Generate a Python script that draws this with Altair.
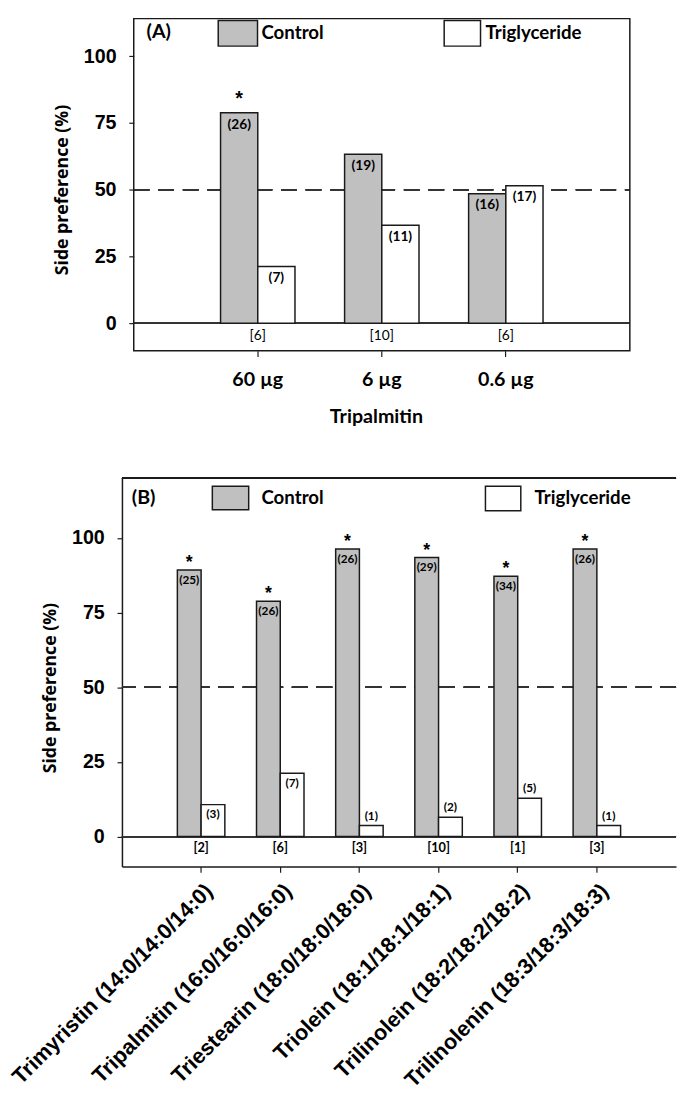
import altair as alt
import pandas as pd

# ---------------- data ----------------
groups = ["Control", "Triglyceride"]

doses = ["60 µg", "6 µg", "0.6 µg"]
a_control = [78.8, 63.3, 48.5]
a_trig = [21.2, 36.7, 51.5]
a_control_n = [26, 19, 16]
a_trig_n = [7, 11, 17]
a_none = [6, 10, 6]
a_sig = [True, False, False]
a_trig_above = [False, False, False]

lipids = [
    "Trimyristin (14:0/14:0/14:0)",
    "Tripalmitin (16:0/16:0/16:0)",
    "Triestearin (18:0/18:0/18:0)",
    "Triolein (18:1/18:1/18:1)",
    "Trilinolein (18:2/18:2/18:2)",
    "Trilinolenin (18:3/18:3/18:3)",
]
b_control = [89.3, 78.8, 96.3, 93.5, 87.2, 96.3]
b_trig = [10.7, 21.2, 3.7, 6.5, 12.8, 3.7]
b_control_n = [25, 26, 26, 29, 34, 26]
b_trig_n = [3, 7, 1, 2, 5, 1]
b_none = [2, 6, 3, 10, 1, 3]
b_sig = [True, True, True, True, True, True]
b_trig_above = [False, False, True, True, True, True]

FONT_C = "Lato"
FONT_O = "Open Sans"
FONT_A = "Liberation Sans"
GRAY = "#c0c0c0"
INK = "#1a1a1a"
FILL = alt.Scale(domain=groups, range=[GRAY, "#ffffff"])


def long_df(cats, ctrl, trig, ctrl_n, trig_n, sig, above):
    rows = []
    for i, c in enumerate(cats):
        rows.append(dict(cat=c, group="Control", value=ctrl[i],
                         n=f"({ctrl_n[i]})", sig=sig[i], above=False))
        rows.append(dict(cat=c, group="Triglyceride", value=trig[i],
                         n=f"({trig_n[i]})", sig=False, above=above[i]))
    return pd.DataFrame(rows)


def none_df(cats, vals):
    return pd.DataFrame({"cat": cats, "lab": [f"[{v}]" for v in vals]})


def legend_layers(boxes):
    """boxes: for each group, (x1, x2, y1, y2, label_x) in panel pixels."""
    out = []
    for g, (x1, x2, y1, y2, lx) in zip(groups, boxes):
        d = pd.DataFrame({"group": [g]})
        out.append(alt.Chart(d).mark_rect(stroke=INK, strokeWidth=1.5).encode(
            x=alt.value(x1), x2=alt.value(x2), y=alt.value(y1), y2=alt.value(y2),
            color=alt.Color("group:N", scale=FILL, legend=None)))
        out.append(alt.Chart(d).mark_text(
            align="left", baseline="middle", font=FONT_C, fontSize=19, fontWeight="bold",
            color="black").encode(x=alt.value(lx), y=alt.value((y1 + y2) / 2), text="group:N"))
    return out


def panel(df, ndf, cats, width, height, ydom, letter, letter_xy, xaxis, xscale,
          legend_boxes, n_size, star_size, star_dy, brk_size, brk_weight,
          frame_left, ghost_x, title_y):
    x_enc = alt.X("cat:N", sort=cats, scale=xscale, axis=xaxis)
    xo = alt.XOffset("group:N", scale=alt.Scale(domain=groups, paddingInner=0,
                                                 paddingOuter=0.6667))
    y_enc = alt.Y("value:Q", scale=alt.Scale(domain=ydom, nice=False, zero=False),
                  axis=alt.Axis(values=[0, 25, 50, 75, 100], title="Side preference (%)",
                                grid=False, domain=(frame_left == 0), domainColor=INK,
                                domainWidth=1.5, offset=-frame_left,
                                tickColor=INK, tickWidth=1.2, tickSize=5,
                                labelPadding=13, labelFont=FONT_A, labelFontSize=20,
                                labelFontWeight="bold", labelColor="black",
                                titleFont=FONT_O, titleFontSize=18, titleFontWeight="bold",
                                titleColor="black", titlePadding=12, titleY=title_y))
    base = alt.Chart(df)

    if frame_left:
        zero = alt.Chart(df).mark_rule(color="#333", strokeWidth=1.3).encode(
            y=alt.datum(0), x=alt.value(frame_left), x2=alt.value(width))
        half = alt.Chart(df).mark_rule(color="#333", strokeWidth=1.5, strokeDash=[16, 9]).encode(
            y=alt.datum(50), x=alt.value(frame_left), x2=alt.value(width))
    else:
        zero = alt.Chart(df).mark_rule(color="#333", strokeWidth=1.3).encode(y=alt.datum(0))
        half = alt.Chart(df).mark_rule(color="#333", strokeWidth=1.5,
                                       strokeDash=[16, 9]).encode(y=alt.datum(50))

    bars = base.mark_bar(stroke=INK, strokeWidth=1.5).encode(
        x=x_enc, xOffset=xo, y=y_enc, y2=alt.datum(0),
        color=alt.Color("group:N", scale=FILL, legend=None),
    )
    lab_in = base.transform_filter("!datum.above").mark_text(
        baseline="top", dy=5, font=FONT_C, fontSize=n_size, fontWeight="bold", color="black"
    ).encode(x=x_enc, xOffset=xo, y=y_enc, text="n:N")
    lab_up = base.transform_filter("datum.above").mark_text(
        baseline="alphabetic", dy=-6, font=FONT_C, fontSize=n_size, fontWeight="bold", color="black"
    ).encode(x=x_enc, xOffset=xo, y=y_enc, text="n:N")
    stars = base.transform_filter("datum.sig").mark_text(
        text="*", baseline="alphabetic", dy=star_dy, font=FONT_A, fontSize=star_size,
        fontWeight="bold", color="black"
    ).encode(x=x_enc, xOffset=xo, y=y_enc)
    brk = alt.Chart(ndf).mark_text(
        baseline="top", dy=6, font=FONT_C, fontSize=brk_size, fontWeight=brk_weight, color="black"
    ).encode(x=x_enc, y=alt.datum(0), text="lab:N")
    tag = alt.Chart(pd.DataFrame({"t": [letter]})).mark_text(
        align="left", baseline="middle", font=FONT_C, fontSize=20,
        fontWeight="bold", color="black"
    ).encode(x=alt.value(letter_xy[0]), y=alt.value(letter_xy[1]), text="t:N")

    layers = [zero, half, bars, lab_in, lab_up, stars, brk, tag] + legend_layers(legend_boxes)
    if ghost_x is not None:
        # invisible spacer that fixes the left extent of the panel
        layers.append(alt.Chart(pd.DataFrame({"t": ["."]})).mark_text(
            color="white", align="left", fontSize=2).encode(
            x=alt.value(ghost_x), y=alt.value(height - 2), text="t:N"))
    if frame_left:
        frame = alt.Chart(pd.DataFrame({"t": [0]})).mark_rect(
            fillOpacity=0, stroke=INK, strokeWidth=1.5).encode(
            x=alt.value(frame_left), x2=alt.value(width), y=alt.value(0), y2=alt.value(height))
        layers.append(frame)
    else:
        top = alt.Chart(df).mark_rule(color=INK, strokeWidth=1.5).encode(y=alt.datum(ydom[1]))
        layers.append(top)
    ch = alt.layer(*layers).properties(width=width, height=height,
                                       view=alt.ViewBackground(stroke=None))
    return ch


xaxisA = alt.Axis(title="Tripalmitin", labelAngle=0, domain=False, tickColor=INK, tickWidth=1.2,
                  tickSize=6, labelPadding=13, labelFont=FONT_C, labelFontSize=20,
                  labelFontWeight="bold", labelColor="black", titleFont=FONT_C, titleFontSize=20,
                  titleFontWeight="bold", titleColor="black", titlePadding=18)
xaxisB = alt.Axis(title=None, labelAngle=-45, labelAlign="right", labelBaseline="middle",
                  domain=True, domainColor=INK, domainWidth=1.5, tickColor=INK, tickWidth=1.2,
                  tickSize=6, labelPadding=15, labelOffset=8, labelFont=FONT_A, labelFontSize=22,
                  labelFontWeight="bold", labelColor="black", labelLimit=400)

# panel A: plot area starts 12px left of its frame so that both panels share one origin
xscaleA = alt.Scale(domain=doses, paddingInner=0, paddingOuter=0.5475, align=0.5434)
xscaleB = alt.Scale(domain=lipids, paddingInner=0, paddingOuter=0.5)

dfA = long_df(doses, a_control, a_trig, a_control_n, a_trig_n, a_sig, a_trig_above)
dfB = long_df(lipids, b_control, b_trig, b_control_n, b_trig_n, b_sig, b_trig_above)

legA = [(98, 138, 2, 28, 142), (328, 365, 2, 28, 370)]
legB = [(92, 129, 8, 32, 142), (370, 406, 8, 33, 420)]

pA = panel(dfA, none_df(doses, a_none), doses, 517, 338, [-10.3, 114.1], "(A)", (25, 14),
           xaxisA, xscaleA, legA, 14, 20, -8, 14, "normal", 12, None, 174)
pB = panel(dfB, none_df(lipids, b_none), lipids, 564, 395, [-10, 120], "(B)", (10, 20),
           xaxisB, xscaleB, legB, 12, 18, -2, 13, "bold", 0, -113, 213)

chart = alt.vconcat(pA, pB, spacing=52).resolve_scale(
    color="independent", x="independent", y="independent", xOffset="independent"
).properties(
    padding={"left": 0, "top": 0, "right": 0, "bottom": 0}
).configure(background="white")

chart.save("out.html", embed_options={"renderer": "svg", "actions": False})
